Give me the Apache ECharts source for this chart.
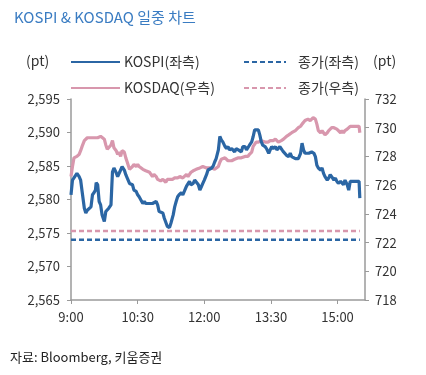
<!DOCTYPE html>
<html>
<head>
<meta charset="utf-8">
<script src="https://cdn.jsdelivr.net/npm/echarts@6/dist/echarts.min.js"></script>
<style>
html,body{margin:0;padding:0;background:#fff;}
#c{width:426px;height:375px;}
</style>
</head>
<body>
<div id="c"></div>
<script>
// minutes after 9:00
var kospiTime = [0,2,8,11,13,15,18,20,22,24,27,29,31,33,34,36,38,40,42,45,47,49,51,54,55,56,58,61,63,65,67,69,72,74,76,79,81,83,85,88,90,92,94,97,99,101,103,106,108,110,112,115,117,119,121,124,126,128,130,133,135,138,140,142,144,146,149,151,153,156,158,160,162,165,167,169,172,174,176,178,180,183,185,187,190,192,194,196,199,201,202,203,205,208,210,212,214,217,219,221,223,226,228,230,232,235,237,239,241,244,246,248,250,253,255,257,259,262,264,267,269,271,273,276,278,280,282,285,287,289,291,294,296,298,300,303,305,307,310,312,313,314,316,318,321,323,325,328,330,332,334,337,339,341,343,346,348,350,352,355,357,359,361,364,366,368,370,373,375,377,379,389,390];
var kospiValue = [2580.7,2582.9,2583.9,2583.4,2582.9,2581.2,2578.7,2578.0,2578.4,2578.2,2578.9,2580.7,2581.0,2581.4,2582.5,2582.2,2579.7,2579.2,2577.7,2576.7,2578.2,2578.4,2578.7,2579.2,2581.7,2584.1,2584.7,2584.0,2583.4,2583.4,2584.4,2584.9,2584.4,2583.7,2583.2,2582.4,2582.2,2582.2,2581.4,2581.2,2580.7,2580.4,2580.2,2579.4,2579.7,2579.4,2579.2,2579.4,2579.3,2579.4,2579.2,2579.7,2579.2,2578.2,2578.2,2578.0,2577.2,2577.0,2576.0,2575.8,2576.5,2577.7,2578.9,2579.7,2580.4,2580.7,2581.0,2580.7,2581.2,2582.0,2582.2,2582.7,2582.2,2582.4,2582.9,2582.7,2582.2,2581.4,2581.9,2582.4,2582.9,2583.7,2584.4,2584.4,2584.7,2585.0,2585.6,2586.1,2587.4,2589.4,2589.6,2588.9,2588.6,2587.9,2587.6,2587.9,2587.4,2587.6,2587.4,2587.1,2587.6,2587.4,2587.6,2587.1,2587.9,2587.9,2587.4,2587.6,2588.1,2588.6,2589.4,2590.4,2590.6,2590.4,2589.6,2588.6,2588.1,2587.9,2587.6,2586.9,2587.4,2587.9,2587.6,2587.9,2587.4,2587.6,2587.9,2587.4,2587.1,2586.9,2586.6,2586.4,2586.9,2586.4,2586.6,2586.1,2585.9,2586.1,2586.9,2588.4,2588.6,2587.4,2586.9,2587.1,2586.9,2586.9,2587.1,2586.9,2586.4,2585.1,2584.7,2584.4,2584.7,2583.9,2583.4,2582.9,2583.2,2583.7,2583.4,2582.9,2583.2,2582.7,2582.4,2582.7,2582.9,2582.2,2582.9,2582.2,2581.4,2582.7,2582.7,2582.7,2580.2];

var kosdaqTime = [0,2,4,6,8,11,13,15,18,20,22,24,27,29,31,33,36,38,40,42,45,47,49,51,54,56,58,61,63,65,67,69,72,74,76,79,81,83,85,88,90,92,94,97,99,101,103,106,108,110,112,115,117,119,121,124,126,128,130,133,135,137,140,142,144,147,149,151,153,156,158,160,162,165,167,169,171,174,176,178,180,183,185,187,190,192,194,196,199,201,203,205,208,210,212,214,217,219,221,223,226,228,230,232,235,237,239,241,244,246,248,250,253,255,257,259,262,264,266,269,271,273,276,278,280,282,284,287,289,291,294,296,298,300,303,305,307,310,312,314,316,318,320,323,325,327,330,332,334,337,339,341,343,346,348,350,352,355,357,359,361,364,366,368,370,373,375,377,379,389,390];
var kosdaqValue = [726.6,727.3,727.9,727.9,728.0,728.15,728.4,728.7,729.1,729.2,729.3,729.4,729.3,729.4,729.3,729.2,729.3,729.3,729.4,729.3,729.2,728.8,728.5,728.4,728.8,729.1,728.6,728.4,728.15,728.3,728.0,728.4,728.3,727.9,727.6,727.1,727.1,727.3,727.45,727.3,727.45,727.3,727.2,727.1,727.1,727.0,727.0,726.9,726.75,726.6,726.75,726.6,726.4,726.5,726.3,726.4,726.3,726.2,726.4,726.4,726.3,726.4,726.5,726.4,726.5,726.6,726.5,726.5,726.6,726.75,726.6,726.75,726.9,727.0,727.1,727.1,727.2,727.2,727.2,727.3,727.3,727.2,727.1,727.2,727.2,727.1,727.1,727.2,727.3,727.6,727.8,727.8,727.9,727.8,727.7,727.7,727.7,727.8,727.8,727.8,727.9,727.8,727.9,727.9,728.0,728.0,728.0,728.15,728.3,728.7,728.8,729.0,729.0,729.1,729.1,729.1,729.0,729.1,729.0,729.1,729.2,729.1,729.2,729.2,729.0,729.0,729.1,729.2,729.3,729.4,729.5,729.5,729.65,729.65,729.8,729.9,730.0,730.1,730.25,730.35,730.5,730.5,730.6,730.5,730.6,730.7,730.6,730.25,729.8,729.65,729.8,729.65,729.5,729.65,729.8,729.9,730.0,730.0,729.9,729.9,729.8,729.65,729.8,729.65,729.8,729.9,730.0,730.1,730.1,730.1,729.65];

var kospiClose = 2574.0;
var kosdaqClose = 722.8;
var closeSpan = [0, 390];

var xTicks = [0, 90, 180, 270, 360];
var xTickLabels = ['9:00', '10:30', '12:00', '13:30', '15:00'];

function zip(a, b) { return a.map(function (t, i) { return [t, b[i]]; }); }

var BLUE = '#2b66a4';
var PINK = '#d897ad';
var FONT = '"Noto Sans CJK KR", "Noto Sans", sans-serif';

var chart = echarts.init(document.getElementById('c'), null, {renderer: 'canvas'});
chart.setOption({
  animation: false,
  backgroundColor: '#fff',
  textStyle: {fontFamily: FONT},
  title: {
    text: 'KOSPI & KOSDAQ 일중 차트',
    left: 9, top: 5,
    textStyle: {fontFamily: FONT, fontSize: 15, fontWeight: 'normal', color: '#3a7cc2'}
  },
  legend: [{
    data: ['KOSPI(좌측)', 'KOSDAQ(우측)'],
    orient: 'vertical', left: 70, top: 55, itemGap: 12, padding: 0,
    itemWidth: 49, itemHeight: 14,
    itemStyle: {opacity: 0},
    textStyle: {fontFamily: FONT, fontSize: 14, color: '#333', padding: [0, 0, 0, -1]}
  }, {
    data: ['종가(좌측)', '종가(우측)'],
    orient: 'vertical', left: 243, top: 55, itemGap: 12, padding: 0,
    itemWidth: 42, itemHeight: 14,
    itemStyle: {opacity: 0},
    textStyle: {fontFamily: FONT, fontSize: 14, color: '#333', padding: [0, 0, 0, 7]}
  }],
  graphic: [
    {type: 'text', left: 26, top: 54, style: {text: '(pt)', font: '14px ' + FONT, fill: '#333'}},
    {type: 'text', left: 373, top: 54, style: {text: '(pt)', font: '14px ' + FONT, fill: '#333'}},
    {type: 'text', left: 10, top: 351, style: {text: '자료: Bloomberg, 키움증권', font: '13px ' + FONT, fill: '#222'}}
  ],
  grid: {left: 71, right: 61, top: 99, bottom: 75, containLabel: false},
  xAxis: {
    type: 'value', min: 0, max: 397,
    axisLine: {lineStyle: {color: '#9a9a9a', width: 1.5}},
    axisTick: {customValues: xTicks, length: 4, lineStyle: {color: '#9a9a9a'}},
    axisLabel: {
      customValues: xTicks,
      formatter: function (v) { return xTickLabels[xTicks.indexOf(v)]; },
      color: '#333', fontSize: 13, fontFamily: FONT, margin: 11
    },
    splitLine: {show: false}
  },
  yAxis: [{
    type: 'value', min: 2565, max: 2595, interval: 5, position: 'left',
    axisLine: {show: true, lineStyle: {color: '#9a9a9a', width: 1.5}},
    axisTick: {show: true, length: 4, lineStyle: {color: '#9a9a9a'}},
    axisLabel: {
      formatter: function (v) { return v.toLocaleString('en-US'); },
      color: '#333', fontSize: 13, fontFamily: FONT, margin: 11
    },
    splitLine: {show: false}
  }, {
    type: 'value', min: 718, max: 732, interval: 2, position: 'right',
    axisLine: {show: true, lineStyle: {color: '#9a9a9a', width: 1.5}},
    axisTick: {show: true, length: 4, lineStyle: {color: '#9a9a9a'}},
    axisLabel: {color: '#333', fontSize: 13, fontFamily: FONT, margin: 10},
    splitLine: {show: false}
  }],
  series: [{
    name: 'KOSPI(좌측)', type: 'line', yAxisIndex: 0, symbol: 'none', z: 4,
    data: zip(kospiTime, kospiValue),
    lineStyle: {color: BLUE, width: 3.2}, itemStyle: {color: BLUE}
  }, {
    name: 'KOSDAQ(우측)', type: 'line', yAxisIndex: 1, symbol: 'none', z: 3,
    data: zip(kosdaqTime, kosdaqValue),
    lineStyle: {color: PINK, width: 3.2}, itemStyle: {color: PINK}
  }, {
    name: '종가(좌측)', type: 'line', yAxisIndex: 0, symbol: 'none',
    data: closeSpan.map(function (t) { return [t, kospiClose]; }),
    lineStyle: {color: BLUE, width: 2.5, type: [5, 3]}, itemStyle: {color: BLUE}
  }, {
    name: '종가(우측)', type: 'line', yAxisIndex: 1, symbol: 'none',
    data: closeSpan.map(function (t) { return [t, kosdaqClose]; }),
    lineStyle: {color: PINK, width: 2.5, type: [5, 3]}, itemStyle: {color: PINK}
  }]
});
</script>
</body>
</html>
